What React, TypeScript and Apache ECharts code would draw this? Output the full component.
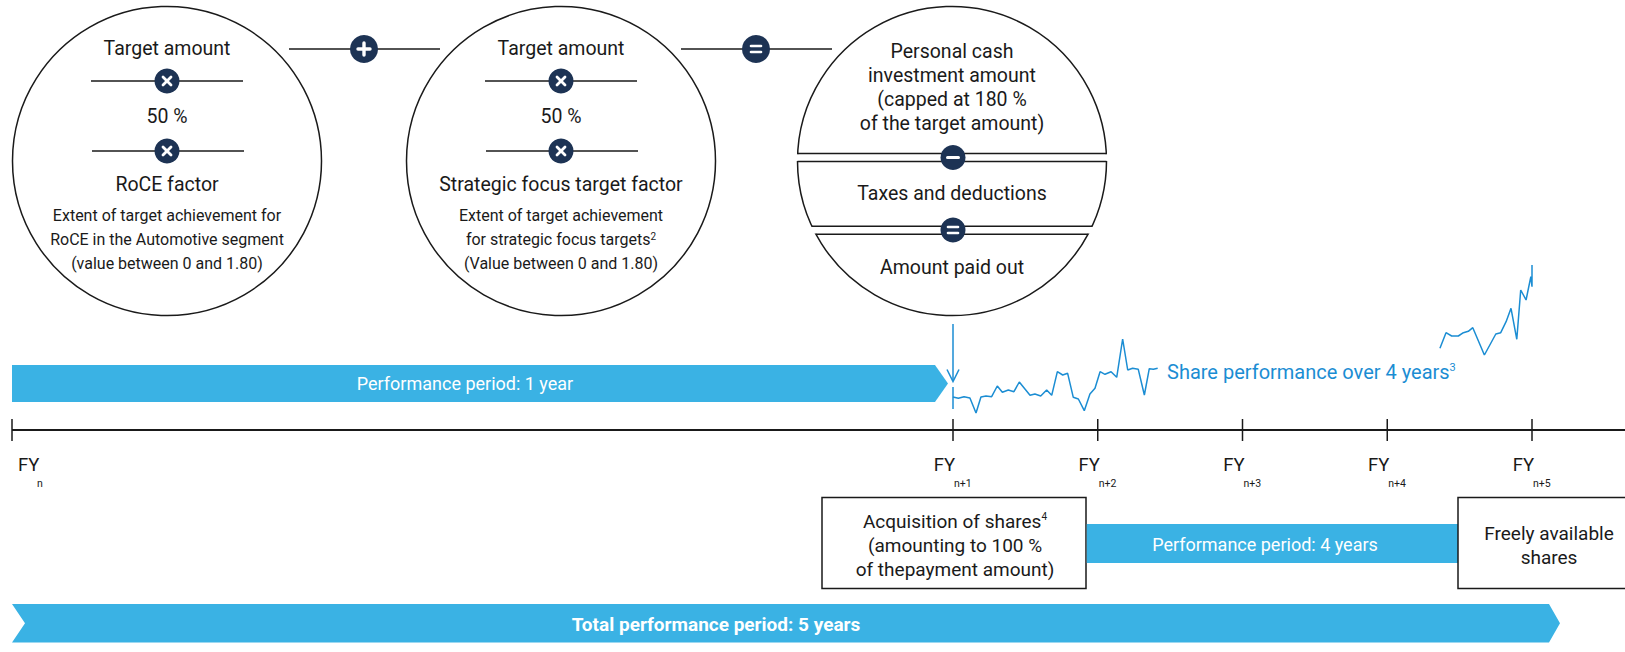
import React, { useEffect, useRef } from "react";
import * as echarts from "echarts";

// ---- data ----
const fiscalYearLabels = ["n", "n+1", "n+2", "n+3", "n+4", "n+5"];
// years after FY n+1 on the share-performance scale (FY n sits at the far left)
const fiscalYearOffsets = [null, 0, 1, 2, 3, 4];

// share performance, first part (years after FY n+1, index value)
const shareYearsA = [0, 0.037, 0.076, 0.117, 0.159, 0.193, 0.228, 0.267, 0.306, 0.341, 0.382, 0.421, 0.458, 0.497, 0.532, 0.566, 0.606, 0.647, 0.682, 0.721, 0.758, 0.792, 0.831, 0.866, 0.907, 0.946, 0.981, 1.016, 1.05, 1.092, 1.131, 1.172, 1.207, 1.241, 1.28, 1.322, 1.356, 1.384, 1.414];
const shareValuesA = [33, 31.7, 33.3, 32, 17, 33, 34, 33.3, 44, 37.7, 40, 38.3, 48, 41, 34.7, 36, 34, 40, 34.7, 58.3, 55, 56.7, 32.7, 31, 19.3, 36, 41.7, 58.3, 55.7, 58.3, 52.7, 91, 60, 61.7, 60.7, 35, 61.3, 60.7, 61.7];
// share performance, second part
const shareYearsB = [3.364, 3.406, 3.445, 3.491, 3.526, 3.56, 3.591, 3.671, 3.75, 3.784, 3.821, 3.855, 3.895, 3.922, 3.959, 3.992, 4.0, 4.0];
const shareValuesB = [81.7, 97.3, 94, 94, 97.3, 98.7, 102.3, 75, 96, 97.3, 108.3, 121.7, 90.7, 140, 130, 153.3, 143.3, 165];

// ---- styles ----
const NAVY = "#1d3354";
const FILL_BLUE = "#3ab2e4";
const LINE_BLUE = "#1b8dd3";
const INK = "#1a1a1a";
const FONT = "Roboto, 'Noto Sans', sans-serif";

function txt(text: string, x: number, y: number, opts: any = {}) {
  return {
    type: "text",
    x,
    y,
    silent: true,
    style: {
      text,
      fill: opts.fill || INK,
      fontSize: opts.size || 19,
      fontWeight: opts.weight || "normal",
      fontFamily: FONT,
      align: opts.align || "center",
      verticalAlign: "middle",
      rich: opts.rich,
    },
  };
}

function line(x1: number, y1: number, x2: number, y2: number, stroke = INK, lineWidth = 1.3) {
  return { type: "line", silent: true, shape: { x1, y1, x2, y2 }, style: { stroke, lineWidth, lineCap: "butt" } };
}

function op(kind: string, cx: number, cy: number, r = 12.5) {
  const wl = (x1: number, y1: number, x2: number, y2: number, w = 3) => ({
    type: "line",
    shape: { x1: cx + x1, y1: cy + y1, x2: cx + x2, y2: cy + y2 },
    style: { stroke: "#ffffff", lineWidth: w, lineCap: "round" },
  });
  const parts: any[] = [{ type: "circle", shape: { cx, cy, r }, style: { fill: NAVY } }];
  if (kind === "x") { parts.push(wl(-4, -4, 4, 4, 2.8), wl(-4, 4, 4, -4, 2.8)); }
  if (kind === "+") { parts.push(wl(-6, 0, 6, 0, 3.4), wl(0, -6, 0, 6, 3.4)); }
  if (kind === "=") { parts.push(wl(-5, -3, 5, -3, 2.6), wl(-5, 3, 5, 3, 2.6)); }
  if (kind === "-") { parts.push(wl(-5.5, 0, 5.5, 0, 3)); }
  return { type: "group", silent: true, children: parts };
}

const supRich = { sup: { fontSize: 10, fontFamily: FONT, fill: INK, verticalAlign: "top", lineHeight: 12 } };

export default function App() {
  const ref = useRef<HTMLDivElement>(null);

  useEffect(() => {
    if (!ref.current) return;
    const chart = echarts.init(ref.current, null, { renderer: "svg" });

    chart.setOption({
      animation: false,
      backgroundColor: "#ffffff",
      grid: { left: 953, width: 579, top: 250, height: 180, containLabel: false },
      xAxis: { type: "value", min: 0, max: 4, interval: 1, show: false },
      yAxis: { type: "value", min: 0, max: 180, show: false },
      series: [
        {
          type: "line",
          name: "Share performance A",
          showSymbol: false,
          clip: false,
          lineStyle: { color: LINE_BLUE, width: 1.5 },
          data: shareYearsA.map((t, i) => [t, shareValuesA[i]]),
        },
        {
          type: "line",
          name: "Share performance B",
          showSymbol: false,
          clip: false,
          lineStyle: { color: LINE_BLUE, width: 1.5 },
          data: shareYearsB.map((t, i) => [t, shareValuesB[i]]),
        },
      ],
    });

    const px = (t: number) => chart.convertToPixel({ gridIndex: 0 }, [t, 0]) as number[];
    const axisY = px(0)[1];
    const startX = 12;
    const tickXs = fiscalYearOffsets.map((o) => (o === null ? startX : px(o)[0]));

    const els: any[] = [];

    // ---------- circles ----------
    const circ = (cx: number, cy: number, r: number) => ({
      type: "circle", silent: true, shape: { cx, cy, r }, style: { fill: "#ffffff", stroke: INK, lineWidth: 1.5 },
    });
    const c1 = 167, c2 = 561, c3 = 952, cy = 161, R = 154.5;
    els.push(circ(c1, cy, R), circ(c2, cy, R), circ(c3, cy, R));

    // connectors
    els.push(line(289, 49, 440, 49), line(681, 49, 832, 49));
    els.push(op("+", 364, 49, 14), op("=", 756, 49, 14));

    // circle 1 & 2 contents
    [c1, c2].forEach((cx) => {
      els.push(line(cx - 76, 81, cx + 76, 81), line(cx - 75, 151, cx + 77, 151));
      els.push(op("x", cx, 81), op("x", cx, 151));
      els.push(txt("Target amount", cx, 48, { size: 19.5 }));
      els.push(txt("50 %", cx, 116, { size: 19.5 }));
    });
    els.push(txt("RoCE factor", c1, 184, { size: 19.5 }));
    els.push(txt("Extent of target achievement for", c1, 215, { size: 16 }));
    els.push(txt("RoCE in the Automotive segment", c1, 239, { size: 16 }));
    els.push(txt("(value between 0 and 1.80)", c1, 263, { size: 16 }));

    els.push(txt("Strategic focus target factor", c2, 184, { size: 19.5 }));
    els.push(txt("Extent of target achievement", c2, 215, { size: 16 }));
    els.push(txt("for strategic focus targets{sup|2}", c2, 239, { size: 16, rich: supRich }));
    els.push(txt("(Value between 0 and 1.80)", c2, 263, { size: 16 }));

    // circle 3 split into three parts
    const chord = (y: number) => {
      const h = Math.sqrt(R * R - (y - cy) * (y - cy));
      return line(c3 - h, y, c3 + h, y, INK, 1.5);
    };
    els.push({ type: "rect", silent: true, shape: { x: c3 - R - 4, y: 154.2, width: 2 * R + 8, height: 6.8 }, style: { fill: "#ffffff" } });
    els.push({ type: "rect", silent: true, shape: { x: c3 - R - 4, y: 226.9, width: 2 * R + 8, height: 6.6 }, style: { fill: "#ffffff" } });
    els.push(chord(153.5), chord(161.5), chord(226.2), chord(234.2));
    els.push(op("-", 953, 157.5), op("=", 953, 230));
    els.push(txt("Personal cash", c3, 51, { size: 19.5 }));
    els.push(txt("investment amount", c3, 75, { size: 19.5 }));
    els.push(txt("(capped at 180 %", c3, 99, { size: 19.5 }));
    els.push(txt("of the target amount)", c3, 123, { size: 19.5 }));
    els.push(txt("Taxes and deductions", c3, 193, { size: 19.5 }));
    els.push(txt("Amount paid out", c3, 267, { size: 19.5 }));

    // ---------- performance period: 1 year ----------
    const t1 = tickXs[1];
    els.push({
      type: "polygon", silent: true,
      shape: { points: [[startX, 365], [t1 - 18, 365], [t1 - 5, 383.5], [t1 - 18, 402], [startX, 402]] },
      style: { fill: FILL_BLUE },
    });
    els.push(txt("Performance period: 1 year", 465, 383, { size: 18, fill: "#ffffff" }));

    // down arrow & share-line start marker
    els.push(line(t1, 324, t1, 381, LINE_BLUE, 1.5));
    els.push({ type: "polyline", silent: true, shape: { points: [[t1 - 6, 369.5], [t1, 381.5], [t1 + 6, 369.5]] }, style: { stroke: LINE_BLUE, lineWidth: 1.5, fill: null } });
    els.push(line(t1, 387, t1, 409, LINE_BLUE, 1.5));
    els.push(txt("Share performance over 4 years{sup|3}", 1167, 372, {
      size: 20, fill: LINE_BLUE, align: "left",
      rich: { sup: { fontSize: 11, fontFamily: FONT, fill: LINE_BLUE, verticalAlign: "top", lineHeight: 12 } },
    }));

    // ---------- timeline ----------
    els.push(line(startX, axisY, 1625, axisY, INK, 2));
    tickXs.forEach((x, i) => {
      els.push(line(x, axisY - 11, x, axisY + 11, INK, 1.5));
      if (i === 0) {
        els.push(txt("FY", x + 6, 465, { size: 18.5, align: "left" }));
        els.push(txt(fiscalYearLabels[i], x + 25, 483, { size: 10.5, align: "left" }));
      } else {
        els.push(txt("FY", x + 2, 465, { size: 18.5, align: "right" }));
        els.push(txt(fiscalYearLabels[i], x + 1, 483, { size: 10.5, align: "left" }));
      }
    });

    // ---------- acquisition box ----------
    els.push({ type: "rect", silent: true, shape: { x: 822, y: 497.5, width: 264, height: 91 }, style: { fill: "#ffffff", stroke: INK, lineWidth: 1.5 } });
    els.push(txt("Acquisition of shares{sup|4}", 955, 521, { rich: supRich }));
    els.push(txt("(amounting to 100 %", 955, 545));
    els.push(txt("of thepayment amount)", 955, 569));

    // performance period: 4 years
    const t5 = tickXs[5];
    els.push({
      type: "polygon", silent: true,
      shape: { points: [[1086.75, 524], [t5 - 69, 524], [t5 - 57, 543.5], [t5 - 69, 563], [1086.75, 563]] },
      style: { fill: FILL_BLUE },
    });
    els.push(txt("Performance period: 4 years", 1265, 544, { size: 18, fill: "#ffffff" }));

    // freely available box
    els.push({ type: "rect", silent: true, shape: { x: 1458, y: 497.5, width: 180, height: 91 }, style: { fill: "#ffffff", stroke: INK, lineWidth: 1.5 } });
    els.push(txt("Freely available", 1549, 533));
    els.push(txt("shares", 1549, 557));

    // ---------- total performance period ----------
    els.push({
      type: "polygon", silent: true,
      shape: { points: [[startX, 604], [t5 + 17, 604], [t5 + 28, 623.25], [t5 + 17, 642.5], [startX, 642.5], [startX + 13, 623.25]] },
      style: { fill: FILL_BLUE },
    });
    els.push(txt("Total performance period: 5 years", 716, 624, { size: 19, weight: "bold", fill: "#ffffff" }));

    chart.setOption({ graphic: { elements: els } });

    return () => chart.dispose();
  }, []);

  return (
    <div
      ref={ref}
      style={{ position: "absolute", left: 0, top: 0, width: 1625, height: 652, background: "#ffffff" }}
    />
  );
}
